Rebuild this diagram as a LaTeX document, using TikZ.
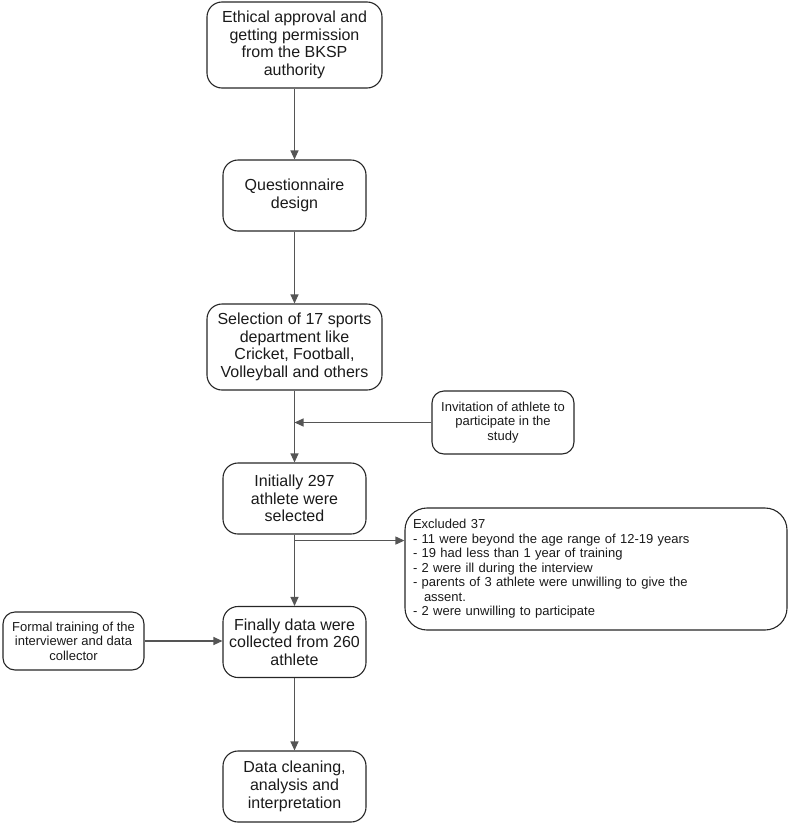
\documentclass[tikz,border=0pt]{standalone}
\usepackage{fontspec}
\setmainfont{Liberation Sans}
\usetikzlibrary{arrows.meta}
\definecolor{edgec}{HTML}{262626}
\definecolor{linec}{HTML}{555555}
\definecolor{txtc}{HTML}{1A1A1A}
\tikzset{
  bigbox/.style={draw=edgec, line width=1.1pt, rounded corners=15pt, inner sep=0pt, align=center, text=txtc, font=\fontsize{16}{17.7}\selectfont},
  smallbox/.style={draw=edgec, line width=1.1pt, rounded corners=12pt, inner sep=0pt, align=center, text=txtc, font=\fontsize{13}{14.5}\selectfont},
  conn/.style={draw=linec, line width=1.1pt, -{Triangle[length=9pt,width=8pt]}},
  plain/.style={draw=linec, line width=1.1pt}
}
\begin{document}
\begin{tikzpicture}[x=1pt,y=-1pt]
\useasboundingbox (0,0) rectangle (790,825);
\node[bigbox, minimum width=175pt, minimum height=86pt] (b1) at (294.5,45) {Ethical approval and\\getting permission\\from the BKSP\\authority};
\node[bigbox, minimum width=143pt, minimum height=71pt] (b2) at (294.5,195.5) {Questionnaire\\design};
\node[bigbox, minimum width=175pt, minimum height=86pt] (b3) at (294.5,347) {Selection of 17 sports\\department like\\Cricket, Football,\\Volleyball and others};
\node[smallbox, minimum width=142pt, minimum height=63pt] (inv) at (503,422.5) {Invitation of athlete to\\participate in the\\study};
\node[bigbox, minimum width=143pt, minimum height=71pt] (b4) at (294.5,498.5) {Initially 297\\athlete were\\selected};
\node[smallbox, rounded corners=22pt, align=left, text width=366pt, inner xsep=8pt, minimum height=122pt] (ex) at (596,569) {Excluded 37\\- 11 were beyond the age range of 12-19 years\\- 19 had less than 1 year of training\\- 2 were ill during the interview\\- parents of 3 athlete were unwilling to give the\\\hspace*{11pt}assent.\\- 2 were unwilling to participate};
\node[smallbox, minimum width=141pt, minimum height=58pt] (ft) at (73.5,641) {Formal training of the\\interviewer and data\\collector};
\node[bigbox, minimum width=143pt, minimum height=71pt] (b5) at (294.5,642) {Finally data were\\collected from 260\\athlete};
\node[bigbox, minimum width=143pt, minimum height=71pt] (b6) at (294.5,786.5) {Data cleaning,\\analysis and\\interpretation};
\coordinate (j1) at (b3.south |- inv.west);
\coordinate (j2) at ([yshift=-6pt]b4.south);
\draw[conn] (b1) -- (b2);
\draw[conn] (b2) -- (b3);
\draw[conn] (b3) -- (b4);
\draw[conn] (inv.west) -- (j1);
\draw[conn] (b4) -- (b5);
\draw[conn] (j2) -- (j2 -| ex.west);
\draw[conn] (ft.east) -- (ft.east -| b5.west);
\draw[conn] (b5) -- (b6);
\end{tikzpicture}
\end{document}
